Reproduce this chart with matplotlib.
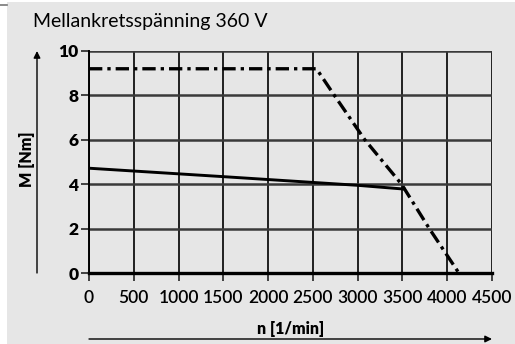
import matplotlib.pyplot as plt
from matplotlib.patches import Rectangle
from matplotlib.lines import Line2D

# max torque curve (dash-dot)
n_max = [0, 2540, 2740, 3080, 3490, 3800, 4130]
m_max = [9.2, 9.2, 8.0, 6.0, 4.0, 2.0, 0.0]

# continuous torque curve (solid)
n_cont = [0, 1500, 2500, 3000, 3520]
m_cont = [4.72, 4.34, 4.08, 3.95, 3.78]

x_ticks = [0, 500, 1000, 1500, 2000, 2500, 3000, 3500, 4000, 4500]
y_ticks = [0, 2, 4, 6, 8, 10]

title = "Mellankretsspänning 360 V"
x_label = "n [1/min]"
y_label = "M [Nm]"

plt.rcParams['font.family'] = ['Lato', 'DejaVu Sans']

fig = plt.figure(figsize=(5.15, 3.44), dpi=100)
fig.patch.set_facecolor('white')
fig.patches.append(Rectangle((7 / 515, 0), 1, (344 - 2) / 344, transform=fig.transFigure,
                             facecolor='#e6e6e6', edgecolor='none', zorder=-10))
fig.lines.append(Line2D([0, 7 / 515], [1 - 5 / 344, 1 - 5 / 344], transform=fig.transFigure,
                        color='#777777', lw=1.2))

ax = fig.add_axes([89 / 515, 1 - 273 / 344, 403 / 515, 222 / 344])
ax.set_facecolor('#e6e6e6')

for x in x_ticks:
    ax.axvline(x, color='#111111', lw=1.3, zorder=1)
for y in y_ticks:
    ax.axhline(y, color='#3a3a3a', lw=1.8, zorder=1)

ax.plot(n_max, m_max, color='black', lw=2.4, linestyle=(0, (4, 1.5, 1, 1.5)), zorder=3)
ax.plot(n_cont, m_cont, color='black', lw=2.1, zorder=3)

ax.set_xlim(0, 4500)
ax.set_ylim(0, 10)
ax.set_xticks(x_ticks)
ax.set_yticks(y_ticks)
ax.set_xticklabels([str(v) for v in x_ticks], fontsize=12.5, fontweight='semibold')
ax.set_yticklabels([str(v) for v in y_ticks], fontsize=12.5, fontweight='heavy')
ax.tick_params(axis='both', length=5.5, width=1.3, color='#333333')
ax.tick_params(axis='x', pad=7)
ax.tick_params(axis='y', pad=2)

for s in ['top', 'right']:
    ax.spines[s].set_visible(False)
ax.spines['left'].set_linewidth(1.4)
ax.spines['bottom'].set_linewidth(2.4)

fig.text(33 / 515, 1 - 22 / 344, title, fontsize=14, ha='left', va='center')
fig.text(27 / 515, 1 - 159 / 344, y_label, fontsize=11.5, fontweight='heavy',
         rotation=90, ha='center', va='center')
fig.text(291 / 515, 1 - 329 / 344, x_label, fontsize=11.5, fontweight='heavy',
         ha='center', va='center')

fig.add_artist(plt.Annotation('', xy=(37 / 515, 1 - 51 / 344), xytext=(37 / 515, 1 - 273 / 344),
                              xycoords='figure fraction', textcoords='figure fraction',
                              arrowprops=dict(arrowstyle='-|>', color='black', lw=1.0,
                                              mutation_scale=10, shrinkA=0, shrinkB=0)))
fig.add_artist(plt.Annotation('', xy=(492 / 515, 1 - 339 / 344), xytext=(89 / 515, 1 - 339 / 344),
                              xycoords='figure fraction', textcoords='figure fraction',
                              arrowprops=dict(arrowstyle='-|>', color='black', lw=1.0,
                                              mutation_scale=10, shrinkA=0, shrinkB=0)))

fig.savefig("out.png", dpi=100, facecolor=fig.get_facecolor())
